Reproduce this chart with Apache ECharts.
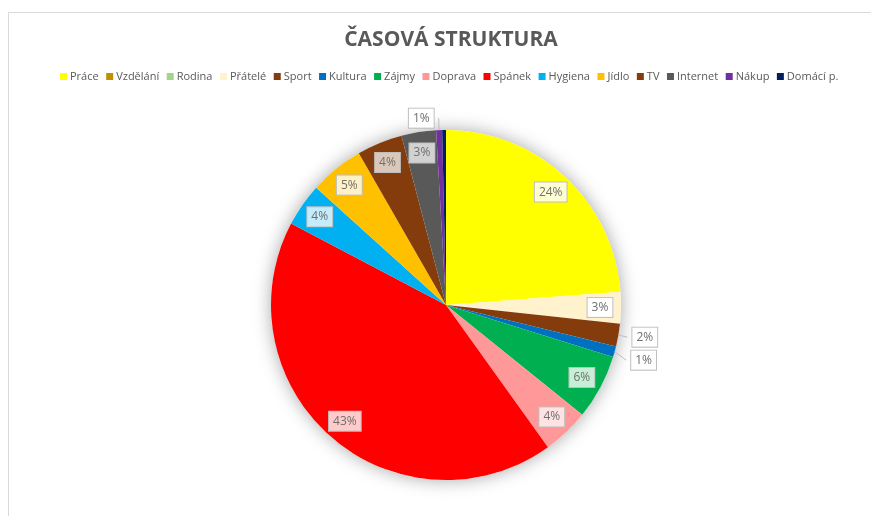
<!DOCTYPE html>
<html>
<head>
<meta charset="utf-8">
<script src="https://cdn.jsdelivr.net/npm/echarts@6/dist/echarts.min.js"></script>
<style>
    html, body { margin: 0; padding: 0; background: #fff; }
    .frame {
        position: absolute;
        left: 8px;
        top: 12px;
        width: 900px;
        height: 540px;
        border-top: 1px solid #d9d9d9;
        border-left: 1px solid #d9d9d9;
    }
    #chart {
        position: absolute;
        left: 0;
        top: 0;
        width: 871px;
        height: 516px;
    }
</style>
</head>
<body>
<div class="frame"></div>
<div id="chart"></div>
<script>
// kategorie a podíly (v %)
const categories = ["Práce", "Vzdělání", "Rodina", "Přátelé", "Sport", "Kultura", "Zájmy", "Doprava", "Spánek", "Hygiena", "Jídlo", "TV", "Internet", "Nákup", "Domácí p."]
const values = [23.8, 0, 0, 2.9, 2.1, 1.0, 6.0, 4.3, 42.6, 4.0, 5.0, 4.2, 3.2, 0.55, 0.35]

const colors = ["#FFFF00", "#BF9000", "#A9D18E", "#FFF2CC", "#843C0C", "#0070C0", "#00B050", "#FF9999", "#FF0000", "#00B0F0", "#FFC000", "#843C0C", "#595959", "#7030A0", "#002060"]
// světlejší výplň popisků
const labelFills = ["#fefed2", "#ffffff", "#ffffff", "#ffffff", "#ffffff", "#ffffff", "#c6efd6", "#ffe3e3", "#ffcaca", "#c4ecfa", "#fff1c6", "#dcc8bb", "#d2d2d2", "#ffffff", "#ffffff"]
const hiddenLabels = ["Vzdělání", "Rodina", "Domácí p."]
const outsideLabels = ["Sport", "Kultura", "Nákup"]

var myChart = echarts.init(document.getElementById("chart"))

const center = [446, 305]
const radius = 175

myChart.setOption({
    textStyle: { fontFamily: "Open Sans" },
    title: {
        text: "ČASOVÁ STRUKTURA",
        left: 446,
        textAlign: "center",
        top: 25,
        textStyle: {
            fontFamily: "Open Sans",
            fontSize: 21,
            fontWeight: "bold",
            color: "#595959",
        },
    },
    legend: {
        data: categories,
        top: 66,
        left: 55,
        icon: "rect",
        itemWidth: 7,
        itemHeight: 7,
        itemGap: 7.5,
        textStyle: {
            fontFamily: "Open Sans",
            fontSize: 11,
            color: "#595959",
            padding: [0, 0, 0, -2],
        },
    },
    series: [
        {
            // stín pod koláčem
            type: "pie",
            silent: true,
            center: center,
            radius: radius,
            z: 1,
            label: { show: false },
            labelLine: { show: false },
            itemStyle: {
                color: "#ffffff",
                shadowBlur: 18,
                shadowColor: "rgba(0,0,0,0.35)",
            },
            data: [{ value: 1, name: "" }],
        },
        {
            name: "Časová struktura",
            type: "pie",
            center: center,
            radius: radius,
            startAngle: 90,
            z: 2,
            label: { show: false },
            labelLine: { show: false },
            emphasis: { disabled: true },
            data: categories.map((name, i) => ({
                name: name,
                value: values[i],
                itemStyle: { color: colors[i] },
            })),
        },
        {
            // popisky (callouty)
            type: "pie",
            silent: true,
            center: center,
            radius: [127, radius],
            startAngle: 90,
            z: 3,
            itemStyle: { color: "transparent" },
            label: {
                show: true,
                position: "inside",
                formatter: (p) => Math.round(p.percent) + "%",
                fontFamily: "Open Sans",
                fontSize: 12,
                color: "#6f6f6f",
                borderColor: "#bfbfbf",
                borderWidth: 1,
                padding: [4, 4, 3, 4],
            },
            labelLine: {
                length: 12,
                length2: 0,
                lineStyle: { color: "#bfbfbf" },
            },
            data: categories.map((name, i) => ({
                name: name,
                value: values[i],
                label: {
                    show: !hiddenLabels.includes(name),
                    position: outsideLabels.includes(name) ? "outside" : "inside",
                    backgroundColor: labelFills[i],
                },
                labelLine: { show: outsideLabels.includes(name) },
            })),
        },
    ],
})
</script>
</body>
</html>
